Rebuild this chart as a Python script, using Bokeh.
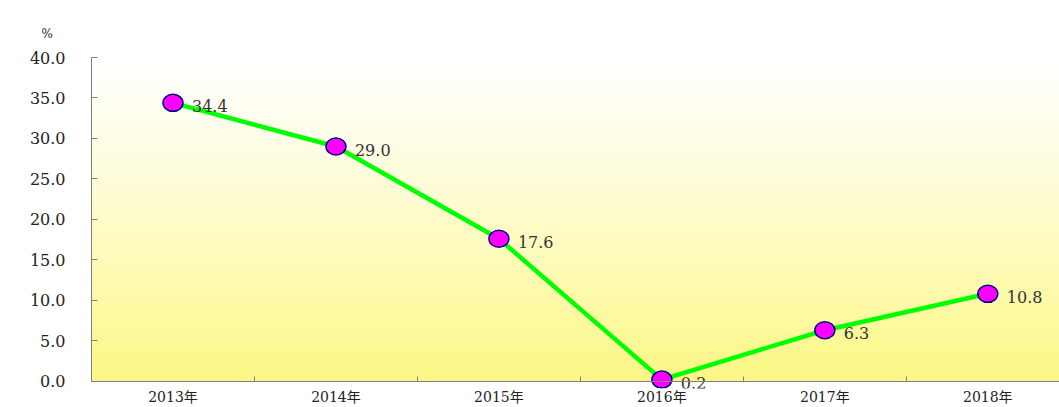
import numpy as np
from bokeh.plotting import figure
from bokeh.models import FixedTicker, Range1d, LinearAxis
from bokeh.embed import file_html
from bokeh.resources import INLINE
from bokeh.core.properties import value

categories = ["2013年", "2014年", "2015年", "2016年", "2017年", "2018年"]
values = [34.4, 29.0, 17.6, 0.2, 6.3, 10.8]
value_labels = ["34.4", "29.0", "17.6", "0.2", "6.3", "10.8"]
y_ticks = [0, 5, 10, 15, 20, 25, 30, 35, 40]
y_tick_labels = ["0.0", "5.0", "10.0", "15.0", "20.0", "25.0", "30.0", "35.0", "40.0"]
unit_label = "%"

SERIF = "DejaVu Serif, Noto Sans CJK SC"
xs = list(range(len(categories)))

p = figure(width=1059, height=407, output_backend="svg", toolbar_location=None,
           x_range=Range1d(-0.5, 5.44), y_range=Range1d(-0.9, y_ticks[-1]),
           min_border_left=91, min_border_top=57, min_border_bottom=18,
           min_border_right=0, title=unit_label)
p.outline_line_color = None
p.grid.visible = False
p.background_fill_color = "white"
p.border_fill_color = "white"
p.title.align = "left"
p.title.offset = -50
p.title.text_font = SERIF
p.title.text_font_size = "12px"
p.title.text_font_style = "normal"
p.title.text_color = "#222222"
p.title.standoff = 34

# vertical gradient background (white at top -> yellow at bottom)
n = 200
img = np.zeros((n, 1, 4), dtype=np.uint8)
for i in range(n):
    t = i / (n - 1)          # 0 bottom, 1 top
    w = (1 - t) ** 1.2       # yellow weight
    img[i, 0, 0] = int(round(255 * (1 - w) + 252 * w))
    img[i, 0, 1] = int(round(255 * (1 - w) + 247 * w))
    img[i, 0, 2] = int(round(255 * (1 - w) + 132 * w))
    img[i, 0, 3] = 255
p.image_rgba(image=[img.view(dtype=np.uint32).reshape((n, 1))],
             x=-0.5, y=y_ticks[0], dw=len(categories), dh=y_ticks[-1] - y_ticks[0],
             level="image")

# x axis line with boundary ticks, fixed at y = 0
xa = p.xaxis[0]
xa.fixed_location = 0
xa.ticker = FixedTicker(ticks=xs, minor_ticks=[-0.5] + [i + 0.5 for i in xs])
xa.major_label_text_color = None
xa.major_tick_in = 0
xa.major_tick_out = 0
xa.minor_tick_in = 5
xa.minor_tick_out = 0
xa.axis_line_color = "#808080"
xa.minor_tick_line_color = "#808080"

# category labels
xl = LinearAxis(ticker=FixedTicker(ticks=xs))
xl.major_label_overrides = {i: c for i, c in zip(xs, categories)}
xl.axis_line_color = None
xl.major_tick_line_color = None
xl.minor_tick_line_color = None
xl.major_tick_in = 0
xl.major_tick_out = 0
xl.minor_tick_in = 0
xl.minor_tick_out = 0
xl.major_label_standoff = 0
xl.major_label_text_font = SERIF
xl.major_label_text_font_size = "14px"
xl.major_label_text_color = "#222222"
p.add_layout(xl, "below")

# y axis
ya = p.yaxis[0]
ya.bounds = (y_ticks[0], y_ticks[-1])
ya.ticker = FixedTicker(ticks=y_ticks)
ya.major_label_overrides = {t: l for t, l in zip(y_ticks, y_tick_labels)}
ya.major_tick_in = 6
ya.major_tick_out = 0
ya.minor_tick_line_color = None
ya.axis_line_color = "#808080"
ya.major_tick_line_color = "#808080"
ya.major_label_standoff = 26
ya.major_label_text_font = SERIF
ya.major_label_text_font_size = "16px"
ya.major_label_text_color = "#222222"

# line and markers
p.line(xs, values, line_color="#00FF00", line_width=4.5)
p.ellipse(x=xs, y=values, width=20, height=17, width_units="screen",
          height_units="screen", fill_color="#FF00FF", line_color="#000080",
          line_width=1.5)
p.text(x=xs, y=values, text=value_labels, x_offset=19, y_offset=3,
       text_align="left", text_baseline="middle", text_font=value(SERIF),
       text_font_size="16px", text_color="#333333")

open("out.html", "w").write(file_html(p, INLINE))
